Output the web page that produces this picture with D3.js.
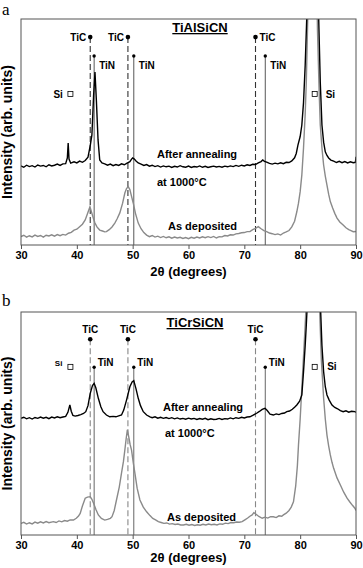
<!DOCTYPE html>
<html>
<head>
<meta charset="utf-8">
<script src="https://cdn.jsdelivr.net/npm/d3@7"></script>
<style>
  body { margin: 0; background: #fff; }
  svg text { font-family: "Liberation Sans", Arial, sans-serif; font-weight: bold; fill: #000; }
  svg text.letter { font-family: "Liberation Serif", "DejaVu Serif", serif; font-weight: normal; }
</style>
</head>
<body>
<svg id="chart" width="363" height="568"></svg>
<script>
// x axis ticks (2theta, degrees)
const xTicks = [30, 40, 50, 60, 70, 80, 90];

// reference peak positions (2theta)
const ticPeaks = [42.4, 49.15, 72.0];
const tinPeaks = [43.1, 50.2, 73.75];
const siMarks = [38.85, 82.6];

// panel a - TiAlSiCN, after annealing at 1000°C  [2theta, intensity (arb.)]
const annealA = [
  [30,35.0],[30.5,34.4],[31,35.3],[31.5,34.7],[32,35.1],[32.5,34.5],[33,35.4],[33.5,34.9],
  [34,35.2],[34.5,34.6],[35,35.5],[35.5,35.0],[36,35.3],[36.5,35.8],[37,35.2],[37.5,35.9],
  [38,36.0],[38.3,38.5],[38.45,45.1],[38.6,38.0],[38.9,36.2],[39.5,36.8],[40,36.3],[40.5,37.1],
  [41,36.6],[41.5,37.4],[42,38.9],[42.4,44.0],[42.7,48.7],[43.0,66.0],[43.25,76.5],[43.5,64.0],
  [43.8,46.5],[44.1,37.6],[44.5,36.3],[45,35.9],[45.5,35.3],[46,35.8],[46.5,35.1],[47,35.6],
  [47.5,35.2],[48,35.9],[48.5,35.5],[49,36.2],[49.5,36.9],[49.8,38.0],[50.0,38.5],[50.3,38.0],
  [50.6,37.2],[51,36.3],[51.5,35.8],[52,35.2],[52.5,35.6],[53,34.9],[53.5,35.3],[54,34.7],
  [54.5,35.1],[55,34.5],[55.5,35.0],[56,34.6],[56.5,34.9],[57,34.3],[57.5,34.8],[58,34.5],
  [58.5,35.1],[59,34.6],[59.5,34.4],[60,34.9],[60.5,34.3],[61,34.7],[61.5,34.5],[62,35.0],
  [62.5,34.4],[63,34.8],[63.5,34.3],[64,34.6],[64.5,34.9],[65,34.5],[65.5,34.8],[66,34.4],
  [66.5,34.9],[67,34.6],[67.5,35.0],[68,34.7],[68.5,35.2],[69,34.8],[69.5,35.3],[70,35.0],
  [70.5,35.5],[71,35.2],[71.5,35.7],[72,35.6],[72.5,36.3],[73,36.9],[73.3,37.6],[73.6,37.0],
  [74,36.7],[74.5,36.1],[75,35.8],[75.5,36.2],[76,35.9],[76.5,36.4],[77,36.0],[77.5,36.6],
  [78,36.5],[78.5,37.2],[79,38.6],[79.3,40.5],[79.6,44.2],[80,48.0],[80.3,53.1],[80.6,63.0],
  [80.9,79.6],[81.2,102],[81.8,160],[82.3,220],[82.8,160],[83.3,102],[83.6,72.1],[83.9,53.1],
  [84.2,45.5],[84.5,41.2],[84.8,39.6],[85.1,38.5],[85.5,37.6],[86,37.1],[86.5,36.5],[87,37.0],
  [87.5,36.4],[88,36.9],[88.5,36.3],[89,36.8],[89.5,36.4],[89.9,36.6],[90,39.0]
];

// panel a - TiAlSiCN, as deposited
const asdepA = [
  [30,3.7],[30.5,4.3],[31,3.5],[31.5,4.1],[32,3.6],[32.5,4.4],[33,3.8],[33.5,4.2],
  [34,3.5],[34.5,4.3],[35,4.0],[35.5,4.5],[36,3.9],[36.5,4.6],[37,4.1],[37.5,4.7],
  [38,4.4],[38.5,5.2],[39,5.6],[39.5,6.6],[40,7.0],[40.5,8.1],[41,9.2],[41.5,11.1],
  [42,14.5],[42.35,16.9],[42.7,14.0],[43.0,11.5],[43.25,9.7],[43.6,8.0],[44.1,6.6],[44.6,6.2],
  [45.0,5.8],[45.3,5.9],[45.8,6.8],[46.3,8.0],[46.8,9.7],[47.2,11.5],[47.7,14.2],[48.2,18.5],
  [48.6,23.0],[48.9,25.0],[49.2,25.8],[49.5,24.5],[49.8,21.5],[50.1,18.6],[50.5,14.0],[51,9.7],
  [51.5,7.2],[52,5.5],[52.5,4.4],[53,3.7],[53.5,4.2],[54,3.5],[54.5,3.9],[55,3.3],
  [55.5,3.8],[56,3.2],[56.5,3.6],[57,3.0],[57.5,3.5],[58,3.1],[58.5,3.4],[59,2.9],
  [59.5,3.3],[60,2.8],[60.5,3.4],[61,3.0],[61.5,3.5],[62,3.1],[62.5,3.6],[63,3.2],
  [63.5,3.7],[64,3.3],[64.5,3.8],[65,3.1],[65.5,3.7],[66,3.6],[66.5,4.2],[67,4.0],
  [67.5,4.5],[68,4.4],[68.5,4.9],[69,5.1],[69.5,5.4],[70,5.5],[70.5,5.9],[71,5.9],
  [71.5,6.8],[72,7.4],[72.5,8.1],[73,7.2],[73.5,6.4],[74,5.9],[74.5,5.3],[75,5.0],
  [75.5,4.6],[76,4.9],[76.5,4.4],[77,5.3],[77.5,5.8],[78,6.4],[78.5,8.0],[79,10.5],
  [79.4,14.7],[79.7,18.5],[80,23.6],[80.3,31.0],[80.6,42.9],[80.9,58.0],[81.1,72.1],[81.4,105],
  [81.9,180],[82.3,200],[82.8,150],[83.1,95],[83.4,68],[83.6,53.1],[83.9,43.0],[84.2,35.4],
  [84.5,30.5],[84.8,26.5],[85.1,22.5],[85.4,19.2],[85.8,16.5],[86.2,14.0],[86.6,11.9],[87.1,10.2],
  [87.7,8.8],[88.2,7.6],[88.7,6.8],[89.1,6.4],[89.5,5.9],[90,6.0]
];

// panel b - TiCrSiCN, after annealing at 1000°C
const annealB = [
  [30,52.3],[30.5,52.8],[31,52.1],[31.5,52.6],[32,52.0],[32.5,52.7],[33,52.3],[33.5,52.9],
  [34,52.4],[34.5,52.8],[35,52.2],[35.5,52.9],[36,52.5],[36.5,53.0],[37,52.6],[37.5,52.9],
  [38,53.2],[38.4,55.0],[38.75,58.3],[39.0,55.5],[39.3,53.6],[39.7,53.3],[40.2,53.6],[40.7,54.0],
  [41.2,54.5],[41.6,55.3],[42.0,58.0],[42.4,63.5],[42.8,67.0],[43.1,68.0],[43.4,66.0],[43.85,61.3],
  [44.3,57.5],[44.7,55.3],[45.3,53.8],[45.9,53.0],[46.5,53.2],[47.0,53.0],[47.5,53.4],[48.0,53.8],
  [48.4,56.0],[48.9,60.5],[49.2,63.5],[49.5,66.5],[49.9,68.6],[50.2,69.2],[50.6,65.5],[51.0,61.3],
  [51.4,58.0],[51.9,55.3],[52.5,53.8],[53.1,53.0],[53.5,52.6],[54,53.0],[54.5,52.4],[55,52.8],
  [55.5,52.3],[56,52.7],[56.5,52.2],[57,52.6],[57.5,52.1],[58,52.5],[58.5,52.0],[59,52.3],
  [59.5,51.9],[60,52.4],[60.5,52.0],[61,52.3],[61.5,51.8],[62,52.2],[62.5,51.9],[63,52.3],
  [63.5,51.7],[64,52.1],[64.5,51.8],[65,51.9],[65.5,52.3],[66,51.8],[66.5,52.2],[67,52.0],
  [67.5,52.5],[68,52.1],[68.5,52.6],[69,52.3],[69.5,52.8],[70,52.5],[70.5,52.9],[71,53.0],
  [71.5,53.6],[72.2,54.6],[72.7,55.4],[73.2,56.3],[73.7,56.8],[74.1,55.8],[74.6,54.2],[75.2,53.8],
  [75.7,54.3],[76.2,54.0],[76.7,54.5],[77.2,54.7],[77.6,55.3],[78.1,55.6],[78.6,56.4],[79.0,57.3],
  [79.4,58.3],[79.9,60.0],[80.3,62.8],[80.6,73.2],[80.9,85.0],[81.1,94.2],[81.4,110],[82.0,200],
  [82.5,260],[83.0,200],[83.6,105],[83.9,85],[84.2,73.2],[84.5,66.5],[84.8,62.8],[85.2,60.5],
  [85.7,58.3],[86.2,57.2],[86.7,56.6],[87.2,55.8],[87.7,55.3],[88.2,55.7],[88.7,55.1],[89.2,55.5],
  [89.8,55.3],[90,55.0]
];

// panel b - TiCrSiCN, as deposited
const asdepB = [
  [30,5.2],[30.5,5.7],[31,4.9],[31.5,5.5],[32,5.0],[32.5,5.8],[33,5.3],[33.5,5.9],
  [34,5.4],[34.5,6.0],[35,5.5],[35.8,6.0],[36.3,5.6],[36.8,6.3],[37.3,5.9],[37.8,6.5],
  [38.3,6.2],[38.8,6.8],[39.4,6.7],[39.9,7.5],[40.3,8.5],[40.6,9.7],[41.0,13.0],[41.5,16.5],
  [41.9,17.0],[42.4,17.2],[42.7,16.0],[43.0,14.2],[43.4,11.5],[43.85,9.0],[44.4,7.4],[45.0,6.7],
  [45.5,7.0],[46.0,7.5],[46.3,8.2],[46.7,11.0],[47.1,15.7],[47.6,21.5],[48.0,27.7],[48.35,33.0],
  [48.6,38.1],[48.85,43.5],[49.05,47.1],[49.3,44.0],[49.55,40.5],[49.8,38.1],[50.1,32.5],[50.4,27.7],
  [50.8,21.0],[51.3,15.7],[51.9,12.5],[52.5,10.4],[53.1,8.7],[53.6,7.4],[54.1,6.8],[54.6,6.0],
  [55.1,5.6],[55.6,5.2],[56.1,5.4],[56.6,4.9],[57.1,5.1],[57.6,4.7],[58.1,4.9],[58.6,4.5],
  [59.1,4.5],[59.6,4.8],[60.1,4.4],[60.6,4.7],[61.1,4.3],[61.6,4.6],[62.1,4.4],[62.6,4.8],
  [63.1,4.5],[63.6,4.9],[64.1,4.6],[64.6,4.8],[65.1,4.5],[65.6,5.0],[66.1,4.8],[66.6,5.3],
  [67.1,5.1],[67.6,5.6],[68.1,5.5],[68.6,5.8],[69.1,5.7],[69.6,6.0],[70.1,6.8],[70.6,7.6],
  [71.0,8.4],[71.4,9.0],[71.7,10.0],[72.1,9.3],[72.6,8.3],[73.2,7.5],[73.7,8.0],[74.2,7.6],
  [74.7,8.2],[75.2,8.2],[75.7,7.8],[76.2,8.6],[76.7,8.4],[77.0,9.0],[77.5,9.8],[78.0,11.0],
  [78.4,12.5],[78.8,14.9],[79.2,22.0],[79.5,31.0],[79.7,40.4],[80.0,52.0],[80.3,65.8],[80.6,80.0],
  [80.9,94.2],[81.1,105],[81.6,170],[82.3,230],[83.0,170],[83.5,100],[83.8,78],[84.2,61.4],
  [84.5,52.0],[84.8,44.8],[85.1,40.0],[85.4,35.9],[85.7,32.6],[86.0,29.9],[86.6,25.6],[87.2,22.4],
  [87.8,19.2],[88.4,16.5],[88.9,14.8],[89.4,13.2],[89.8,12.0],[90,11.0]
];

const svg = d3.select("#chart");
const x = d3.scaleLinear().domain([30, 90]).range([21, 356]);

const panels = [
  {
    id: "a", top: 19, bottom: 245, letterY: 15, xLabelY: 276,
    title: "TiAlSiCN", titleX: 200, titleY: 32,
    anneal: annealA, asdep: asdepA,
    ticY: 92, tinY: 83.6, siY: 66.8,
    dashColor: "#333", solidColor: "#444",
    ticLabels: [{anchor: "end", dx: -4, dy: 3.5}, {anchor: "end", dx: -4, dy: 3.5}, {anchor: "start", dx: 4, dy: 4}],
    tinLabel: {dx: 5, dy: 13},
    siLeft: {dx: -7.5, dy: 3.5, size: 10}, siRight: {dx: 11, dy: 3.5, size: 10},
    texts: [["After annealing", 157, 158], ["at 1000°C", 157, 186], ["As deposited", 168, 230]]
  },
  {
    id: "b", top: 312, bottom: 535, letterY: 306, xLabelY: 562,
    title: "TiCrSiCN", titleX: 195, titleY: 327,
    anneal: annealB, asdep: asdepB,
    ticY: 87.8, tinY: 75.2, siY: 75.4,
    dashColor: "#888", solidColor: "#555",
    ticLabels: [{anchor: "middle", dx: 0, dy: -6}, {anchor: "middle", dx: 0, dy: -6}, {anchor: "middle", dx: 0, dy: -6}],
    tinLabel: {dx: 3.5, dy: -1.5},
    siLeft: {dx: -8, dy: -0.5, size: 8}, siRight: {dx: 12.5, dy: 3.5, size: 10},
    texts: [["After annealing", 163, 411], ["at 1000°C", 165, 437], ["As deposited", 167, 521]]
  }
];

panels.forEach((p) => {
  const y = d3.scaleLinear().domain([0, 100]).range([p.bottom, p.top]);
  const g = svg.append("g");

  // panel letter
  g.append("text").attr("class", "letter")
    .attr("x", 2).attr("y", p.letterY)
    .attr("font-size", 17).text(p.id);

  g.append("defs").append("clipPath").attr("id", "clip-" + p.id)
    .append("rect")
    .attr("x", x(30)).attr("y", p.top)
    .attr("width", x(90) - x(30)).attr("height", p.bottom - p.top);

  // reference lines
  g.selectAll(".tic-line").data(ticPeaks).enter().append("line")
    .attr("x1", (d) => x(d)).attr("x2", (d) => x(d))
    .attr("y1", y(p.ticY)).attr("y2", p.bottom)
    .attr("stroke", p.dashColor).attr("stroke-width", 1.1)
    .attr("stroke-dasharray", "6,3");
  g.selectAll(".tin-line").data(tinPeaks).enter().append("line")
    .attr("x1", (d) => x(d)).attr("x2", (d) => x(d))
    .attr("y1", y(p.tinY)).attr("y2", p.bottom)
    .attr("stroke", p.solidColor).attr("stroke-width", 0.9);

  // curves
  const line = d3.line().x((d) => x(d[0])).y((d) => y(d[1]));
  const curves = g.append("g").attr("clip-path", "url(#clip-" + p.id + ")");
  curves.append("path").datum(p.asdep).attr("d", line)
    .attr("fill", "none").attr("stroke", "#8a8a8a").attr("stroke-width", 1.4);
  curves.append("path").datum(p.anneal).attr("d", line)
    .attr("fill", "none").attr("stroke", "#000").attr("stroke-width", 1.4);

  // markers
  g.selectAll(".tic-dot").data(ticPeaks).enter().append("circle")
    .attr("cx", (d) => x(d)).attr("cy", y(p.ticY)).attr("r", 2.3).attr("fill", "#000");
  g.selectAll(".tin-dot").data(tinPeaks).enter().append("circle")
    .attr("cx", (d) => x(d)).attr("cy", y(p.tinY)).attr("r", 1.7).attr("fill", "#000");
  g.selectAll(".tic-lab").data(ticPeaks).enter().append("text")
    .attr("x", (d, i) => x(d) + p.ticLabels[i].dx)
    .attr("y", (d, i) => y(p.ticY) + p.ticLabels[i].dy)
    .attr("text-anchor", (d, i) => p.ticLabels[i].anchor)
    .attr("font-size", 10).text("TiC");
  g.selectAll(".tin-lab").data(tinPeaks).enter().append("text")
    .attr("x", (d) => x(d) + p.tinLabel.dx)
    .attr("y", y(p.tinY) + p.tinLabel.dy)
    .attr("font-size", 10).text("TiN");

  // Si squares
  g.selectAll(".si-box").data(siMarks).enter().append("rect")
    .attr("x", (d) => x(d) - 2.5).attr("y", y(p.siY) - 2.5)
    .attr("width", 5).attr("height", 5)
    .attr("fill", "#fff").attr("stroke", "#000").attr("stroke-width", 0.8);
  g.append("text").attr("x", x(siMarks[0]) + p.siLeft.dx).attr("y", y(p.siY) + p.siLeft.dy)
    .attr("text-anchor", "end").attr("font-size", p.siLeft.size).text("Si");
  g.append("text").attr("x", x(siMarks[1]) + p.siRight.dx).attr("y", y(p.siY) + p.siRight.dy)
    .attr("font-size", p.siRight.size).text("Si");

  // curve labels
  g.selectAll(".cl").data(p.texts).enter().append("text")
    .attr("x", (d) => d[1]).attr("y", (d) => d[2])
    .attr("font-size", 11).text((d) => d[0]);

  // title
  g.append("text").attr("x", p.titleX).attr("y", p.titleY)
    .attr("text-anchor", "middle").attr("font-size", 13)
    .style("text-decoration", "underline").text(p.title);

  // frame
  g.append("rect")
    .attr("x", x(30)).attr("y", p.top)
    .attr("width", x(90) - x(30)).attr("height", p.bottom - p.top)
    .attr("fill", "none").attr("stroke", "#555").attr("stroke-width", 1);

  // x axis
  const ax = g.append("g").attr("transform", "translate(0," + p.bottom + ")")
    .call(d3.axisBottom(x).tickValues(xTicks).tickSize(4).tickPadding(2));
  ax.select(".domain").remove();
  ax.selectAll(".tick line").attr("stroke", "#555");
  ax.selectAll(".tick text").attr("font-size", 11)
    .attr("font-family", "Liberation Sans, Arial, sans-serif").attr("font-weight", "bold");

  g.append("text").attr("x", (x(30) + x(90)) / 2).attr("y", p.xLabelY)
    .attr("text-anchor", "middle").attr("font-size", 13).text("2θ (degrees)");

  g.append("text")
    .attr("transform", "translate(12," + (p.top + p.bottom) / 2 + ") rotate(-90)")
    .attr("text-anchor", "middle").attr("font-size", 14).text("Intensity (arb. units)");
});
</script>
</body>
</html>
